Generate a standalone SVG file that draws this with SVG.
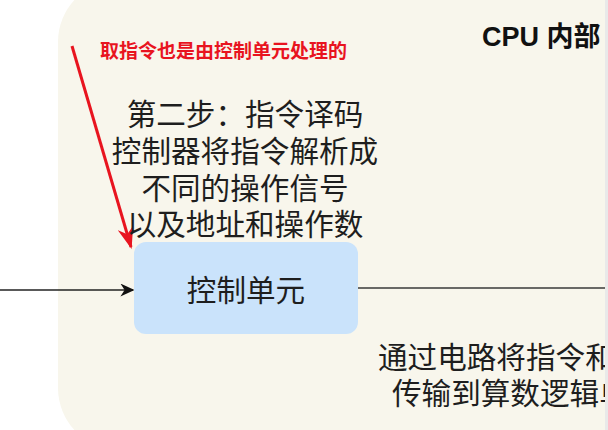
<svg xmlns="http://www.w3.org/2000/svg" width="608" height="430" viewBox="0 0 608 430">
<defs>
<style>
.t{font-family:"Noto Sans CJK SC","Noto Sans",sans-serif;fill:#1e1e1e;font-size:29.6px}
.c{text-anchor:middle}
.red{font-family:"Noto Sans CJK SC","Noto Sans",sans-serif;fill:#e8141f;font-size:19px;font-weight:700}
.ttl{font-family:"Liberation Sans","Noto Sans CJK SC",sans-serif;fill:#111;font-size:27px;font-weight:700}
</style>
<marker id="ab" viewBox="0 0 10 10" refX="9" refY="5" markerWidth="14" markerHeight="13" markerUnits="userSpaceOnUse" orient="auto" preserveAspectRatio="none"><path d="M0,0 L10,5 L0,10 L3,5 Z" fill="#111"/></marker>
<marker id="ar" viewBox="0 0 10 10" refX="9" refY="5" markerWidth="22" markerHeight="16" markerUnits="userSpaceOnUse" orient="auto" preserveAspectRatio="none"><path d="M0,0 L10,5 L0,10 L3,5 Z" fill="#e8141f"/></marker>
</defs>
<rect width="608" height="430" fill="#ffffff"/>
<g id="cpu">
<rect x="58" y="-20" width="700" height="470" rx="62" fill="#f8f6ec"/>
<text class="ttl" x="482" y="46">CPU 内部</text>
</g>
<g id="connectors">
<line x1="0" y1="290" x2="133" y2="290" stroke="#222" stroke-width="1.6" marker-end="url(#ab)"/>
<line x1="358" y1="288" x2="608" y2="288" stroke="#3a3a3a" stroke-width="1.6"/>
<line x1="72" y1="46" x2="131" y2="247" stroke="#e8141f" stroke-width="3" marker-end="url(#ar)"/>
</g>
<g id="note">
<text class="red" x="100" y="58">取指令也是由控制单元处理的</text>
</g>
<g id="decode-label">
<text class="t c" x="245" y="125">第二步：指令译码</text>
<text class="t c" x="245" y="162">控制器将指令解析成</text>
<text class="t c" x="245" y="199">不同的操作信号</text>
<text class="t c" x="245" y="235">以及地址和操作数</text>
</g>
<g id="control-unit">
<rect x="134" y="242" width="224" height="92" rx="12" fill="#cae3fb"/>
<text class="t c" x="246" y="301">控制单元</text>
</g>
<g id="transfer-label">
<text class="t" x="378" y="368">通过电路将指令和</text>
<text class="t" x="392" y="404">传输到算数逻辑单</text>
</g>
<rect x="605" y="0" width="3" height="430" fill="#e9e9e9"/>
</svg>
